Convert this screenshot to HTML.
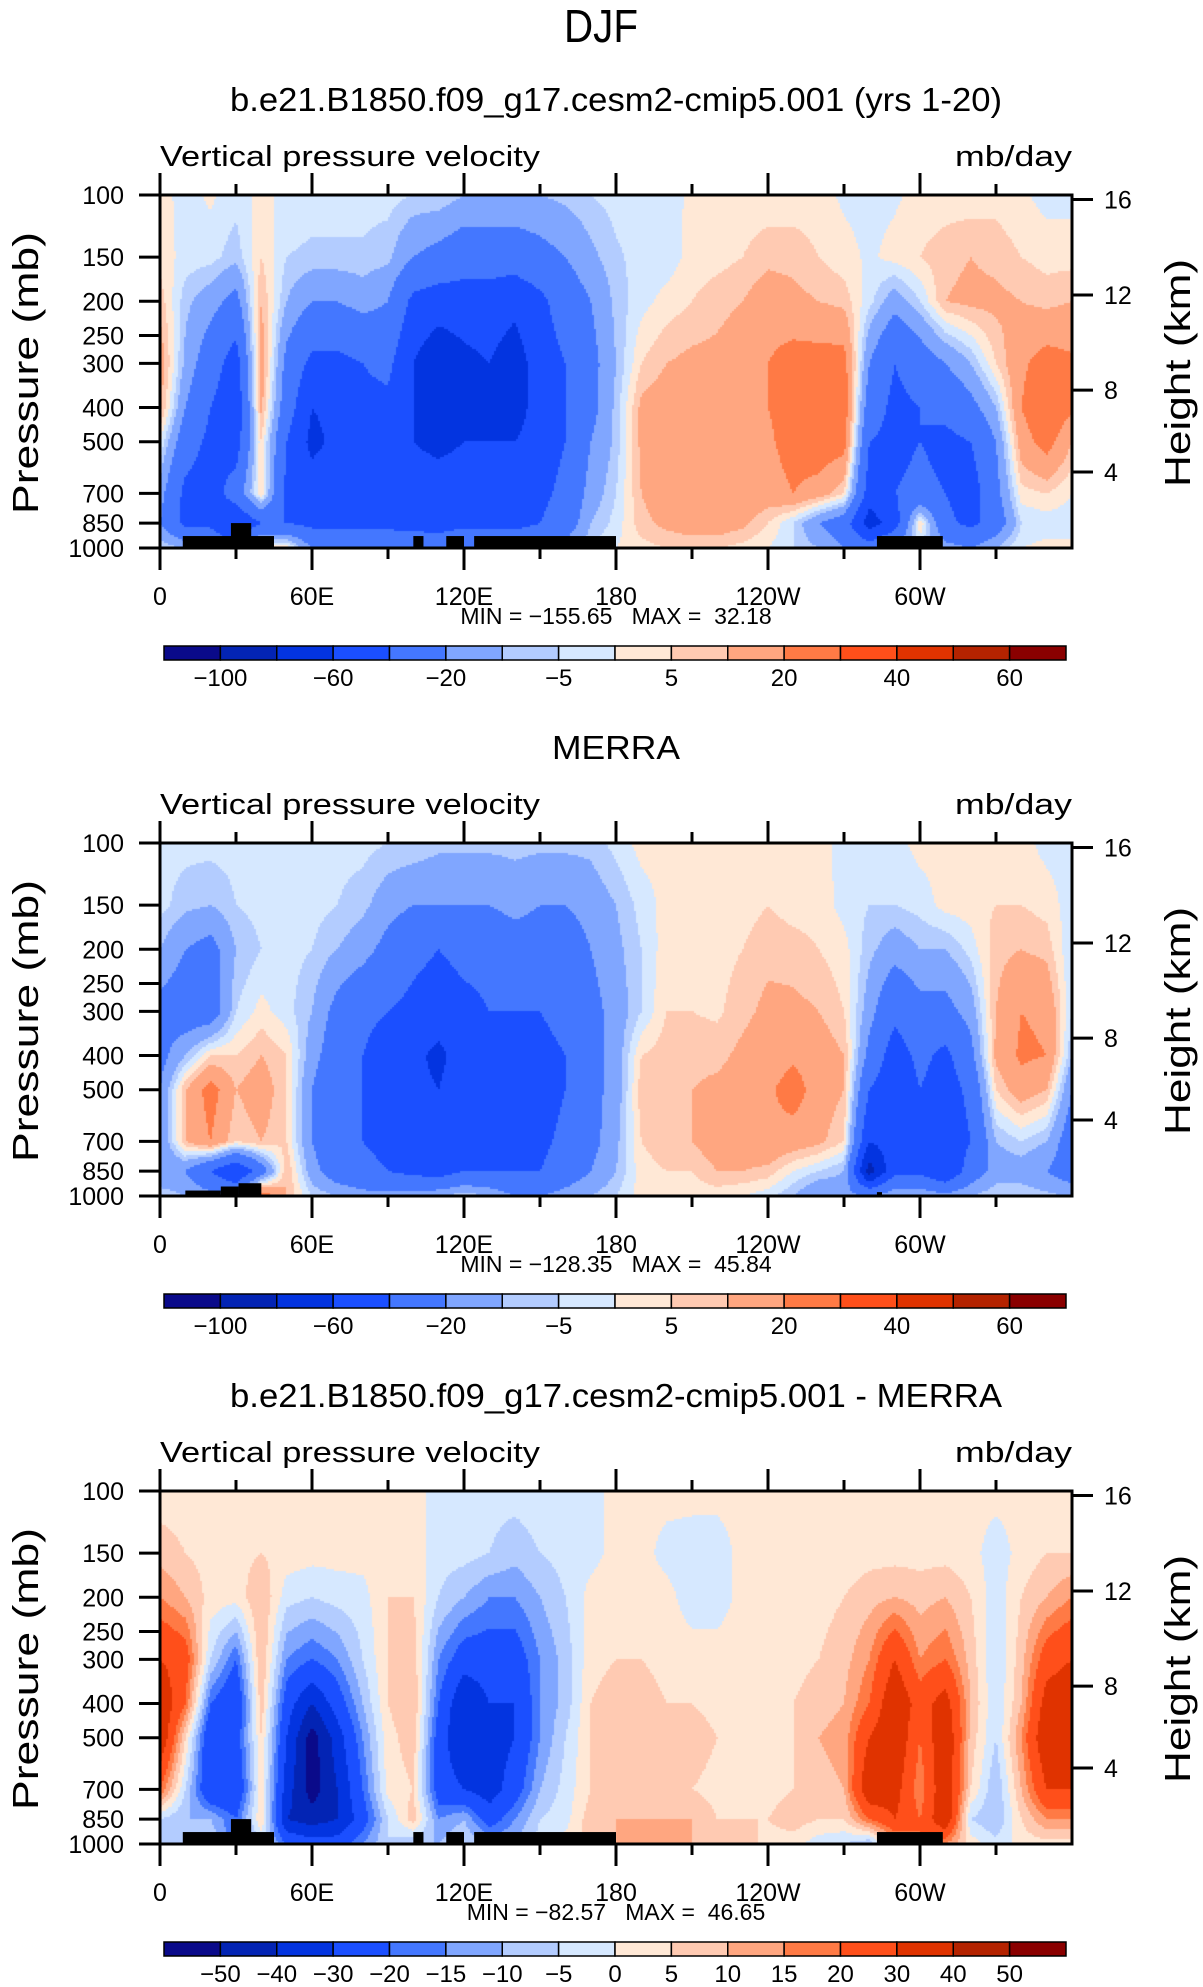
<!DOCTYPE html>
<html><head><meta charset="utf-8"><style>
html,body{margin:0;padding:0;background:#fff;}
#wrap{position:relative;width:1203px;height:1987px;overflow:hidden;}
canvas{position:absolute;}
svg{position:absolute;left:0;top:0;}
text{font-family:"Liberation Sans",sans-serif;fill:#000;}
</style></head><body>
<div id="wrap">
<canvas id="c0"></canvas>
<canvas id="c1"></canvas>
<canvas id="c2"></canvas>
<svg id="svg" width="1203" height="1987" xmlns="http://www.w3.org/2000/svg"></svg>
</div>
<script>
// ---- data ----
const lons = [0,10,20,30,40,50,60,70,80,90,100,110,120,130,140,150,160,170,180,190,200,210,220,230,240,250,260,270,280,290,300,310,320,330,340,350,360];
const levels = [100,150,200,300,400,500,700,850,1000];
const field1 = [
[2,3,8,15,12,0,-15,-20,-5],[-2,-2,-8,-12,-20,-30,-45,-45,-10],[1,-3,-15,-30,-40,-45,-50,-45,-20],[-3,-8,-25,-50,-55,-50,-30,-60,-40],
[2,5,10,15,12,5,5,-40,5],[-2,-5,-10,-25,-30,-40,-45,-40,5],[-3,-6,-20,-45,-60,-65,-50,-45,-20],[-3,-6,-20,-45,-55,-55,-50,-45,-25],
[-3,-6,-15,-40,-45,-50,-50,-45,-25],[-3,-8,-20,-35,-45,-45,-45,-45,-25],[-5,-20,-45,-60,-60,-60,-50,-50,-20],[-5,-25,-50,-75,-70,-65,-50,-50,-25],
[-10,-30,-50,-65,-65,-60,-50,-45,-20],[-10,-30,-50,-60,-60,-60,-50,-45,-20],[-10,-30,-55,-70,-70,-60,-50,-45,-25],[-10,-25,-45,-50,-50,-50,-45,-40,-25],
[-8,-20,-30,-40,-40,-40,-35,-30,-15],[-5,-12,-20,-25,-25,-20,-15,-10,-5],[-3,-6,-8,-10,-8,-8,-5,-3,0],[-2,-3,-2,5,12,12,10,8,3],
[-2,-3,2,10,15,15,15,12,5],[1,2,5,12,15,15,15,15,5],[2,3,8,12,15,15,18,15,5],[2,5,10,15,15,15,17,12,3],
[2,8,15,20,20,18,15,5,0],[2,8,12,25,25,25,20,-5,-5],[2,5,10,25,30,28,15,-20,-10],[-1,2,8,25,28,25,5,-30,-20],
[-2,-1,-3,-20,-30,-40,-50,-70,-30],[-1,2,-15,-40,-45,-45,-40,-50,-15],[2,5,-5,-30,-40,-40,-35,5,-5],[2,8,10,-20,-35,-45,-40,-35,-15],
[2,10,12,-10,-25,-40,-50,-45,-20],[3,8,12,5,-10,-20,-25,-30,-10],[1,5,10,18,20,15,3,-5,0],[-2,3,8,25,30,25,5,-3,2],
[-2,3,10,22,22,10,0,-3,2]];
const field2 = [
[-3,-3,-10,-25,-25,-20,-20,-20,-5],[-3,-8,-20,-30,-10,10,10,-20,-10],[-3,-10,-25,-30,5,25,20,-40,-15],[-3,-5,-10,-5,5,10,5,-60,-20],
[-3,-3,-5,2,10,15,10,-30,30],[-3,-3,-3,-3,5,5,5,10,10],[-3,-3,-5,-10,-15,-20,-20,-15,-5],[-3,-5,-10,-25,-30,-35,-35,-30,-10],
[-3,-8,-15,-35,-40,-40,-40,-35,-15],[-5,-15,-25,-40,-50,-50,-45,-40,-15],[-5,-20,-35,-45,-55,-55,-50,-45,-15],[-8,-20,-40,-50,-65,-60,-50,-50,-10],
[-8,-20,-35,-45,-50,-45,-45,-40,-5],[-8,-20,-35,-40,-45,-45,-45,-40,-10],[-8,-15,-30,-40,-55,-55,-50,-40,-20],[-8,-20,-30,-40,-45,-50,-45,-40,-20],
[-8,-20,-30,-35,-40,-40,-35,-30,-15],[-8,-15,-20,-25,-25,-25,-25,-20,-10],[-3,-10,-12,-15,-15,-15,-12,-10,-5],[2,-3,-5,-5,5,8,5,3,2],
[2,2,3,5,8,8,8,5,2],[2,2,3,5,8,10,10,5,2],[2,2,3,4,8,12,15,10,2],[2,3,5,8,12,15,15,10,0],
[2,5,8,12,15,18,18,8,-3],[2,3,7,12,18,25,15,0,-10],[2,3,5,10,15,15,12,-5,-20],[-2,-2,2,5,10,10,5,-10,-15],
[-2,-5,-8,-15,-25,-40,-60,-90,-20],[-2,-5,-15,-35,-50,-55,-50,-45,-10],[2,-3,-10,-25,-35,-40,-45,-45,-10],[2,2,-10,-25,-45,-50,-55,-60,-15],
[2,3,-3,-15,-25,-35,-40,-30,-10],[2,5,8,10,12,5,-10,-15,-5],[2,5,10,20,22,15,-5,-15,-5],[-2,3,8,18,20,10,-10,-20,-8],
[-2,-3,-5,-5,-10,-20,-30,-30,-10]];
const field3 = [
[2,8,15,30,40,40,20,-5,-5],[2,5,10,25,20,5,-5,-10,-5],[2,3,3,-5,-20,-30,-30,-10,-5],[2,3,2,-20,-30,-25,-30,-20,-20],
[2,5,10,10,8,5,3,5,-5],[2,3,-3,-15,-25,-30,-35,-40,-20],[2,2,-5,-20,-40,-55,-55,-45,-25],[2,2,-3,-15,-25,-35,-40,-40,-25],
[2,2,-2,-5,-10,-15,-20,-25,-15],[2,3,5,5,5,3,2,-5,-5],[2,3,5,8,10,8,5,8,-10],[-2,-3,-5,-15,-20,-25,-25,-15,-10],
[-2,-3,-10,-25,-40,-40,-30,-10,-5],[-3,-5,-15,-25,-30,-35,-35,-25,-10],[-3,-8,-15,-25,-30,-30,-25,-15,-10],[-2,-5,-10,-15,-15,-15,-10,-5,-3],
[-2,-3,-5,-8,-8,-5,-3,-2,2],[-2,-2,2,3,5,5,5,8,8],[2,2,3,5,8,10,8,10,10],[2,2,3,5,8,8,8,10,15],
[2,-2,2,3,5,8,8,10,12],[2,-3,-3,3,5,8,5,10,10],[2,-3,-3,3,3,5,3,5,10],[2,2,2,3,2,3,3,5,8],
[2,2,3,3,3,3,3,5,3],[2,2,2,3,5,5,5,8,2],[2,2,3,5,8,10,8,5,-3],[2,2,5,8,10,12,10,5,-5],
[2,3,8,15,20,30,40,20,-10],[2,3,10,30,40,40,35,30,10],[2,3,8,15,25,20,15,20,20],[2,3,10,20,35,40,40,40,15],
[2,2,5,8,10,8,5,-5,3],[2,-3,-3,-5,-5,-5,-10,-10,-3],[2,2,5,8,10,15,10,5,2],[2,5,10,25,35,40,30,15,3],
[2,5,15,30,40,40,30,15,3]];
const levelsAbs = [-100,-80,-60,-40,-20,-10,-5,0,5,10,20,30,40,50,60];
const levelsDiff = [-50,-40,-30,-20,-15,-10,-5,0,5,10,15,20,30,40,50];
const cbLabelsAbs = ["","-100","","-60","","-20","","-5","","5","","20","","40","","60"];
const cbLabelsDiff = ["","\u221250","\u221240","\u221230","\u221220","\u221215","\u221210","\u22125","0","5","10","15","20","30","40","50"];
const palette = ["#0a0a8a","#0324b4","#0334e0","#1b4fff","#4477ff","#80a6ff","#b3ccff","#d6e8ff","#ffe8d6","#ffcab2","#ffa680","#ff7a45","#ff4f1a","#e03300","#b42300","#8a0000"];
const titles = ["b.e21.B1850.f09_g17.cesm2-cmip5.001 (yrs 1-20)","MERRA","b.e21.B1850.f09_g17.cesm2-cmip5.001 - MERRA"];
const titleLen = [772,128,772];
const minVals = ["\u2212155.65","\u2212128.35","\u221282.57"];
const maxVals = ["32.18","45.84","46.65"];
const pTicks = [100,150,200,250,300,400,500,700,850,1000];
const heightKm = [4,8,12,16];
const heightP = [609,357,192,103];
const lonLabelVals = [0,60,120,180,240,300];
const lonLabels = ["0","60E","120E","180","120W","60W"];
const topo1Lon0 = [9,28,100,113,124,283];
const topo1Lon1 = [45,36,104,120,180,309];
const topo1P = [925,850,925,925,925,925];
const topo2Lon0 = [10,24,31,283];
const topo2Lon1 = [24,31,40,285];
const topo2P = [965,940,920,975];

// ---- geometry ----
const PX0=160, PX1=1072, PY0=195, PY1=548, OFF=648;
const W=PX1-PX0, H=PY1-PY0;
function xOf(lon){return PX0+lon/360*W;}
function yOf(p,k){return k*OFF+PY0+Math.log10(p/100)*H;}
const NS="http://www.w3.org/2000/svg";
const svg=document.getElementById('svg');
function el(tag,attrs,parent){const e=document.createElementNS(NS,tag);for(const a in attrs)e.setAttribute(a,attrs[a]);(parent||svg).appendChild(e);return e;}
function txt(s,attrs,parent){const e=el('text',attrs,parent);e.textContent=s;return e;}

function sample(field,lon,p){
  let i=Math.min(Math.floor(lon/10),35); let fx=(lon-lons[i])/10;
  let k=0; while(k<levels.length-2 && p>levels[k+1]) k++;
  let fy=(Math.log(p)-Math.log(levels[k]))/(Math.log(levels[k+1])-Math.log(levels[k]));
  fy=Math.max(0,Math.min(1,fy));
  const a=field[i][k],b=field[i+1][k],c=field[i][k+1],d=field[i+1][k+1];
  return (a*(1-fx)+b*fx)*(1-fy)+(c*(1-fx)+d*fx)*fy;
}
function colorIdx(v,lv){let n=0;for(const b of lv){if(v>=b)n++;}return n;}

const fields=[field1,field2,field3];
const lvs=[levelsAbs,levelsAbs,levelsDiff];
for(let k=0;k<3;k++){
  const cv=document.getElementById('c'+k);
  cv.width=W;cv.height=H;cv.style.left=PX0+'px';cv.style.top=(k*OFF+PY0)+'px';
  const ctx=cv.getContext('2d');
  const S=2;
  for(let py=0;py<H;py+=S){
    const p=100*Math.pow(10,(py+S/2)/H);
    for(let px=0;px<W;px+=S){
      const lon=(px+S/2)/W*360;
      ctx.fillStyle=palette[colorIdx(sample(fields[k],lon,p),lvs[k])];
      ctx.fillRect(px,py,S,S);
    }
  }
}

// DJF
txt("DJF",{x:601,y:42,'text-anchor':'middle','font-size':46,'font-weight':'normal',style:'font-weight:300','textLength':74,'lengthAdjust':'spacingAndGlyphs'});

for(let k=0;k<3;k++){
  const o=k*OFF;
  const g=el('g',{});
  txt(titles[k],{x:616,y:111,'transform':'translate(0,'+o+')','text-anchor':'middle','font-size':33,'textLength':titleLen[k],'lengthAdjust':'spacingAndGlyphs',},g);
  txt("Vertical pressure velocity",{x:160,y:o+166,'font-size':29,'textLength':380,'lengthAdjust':'spacingAndGlyphs',},g);
  txt("mb/day",{x:1072,y:o+166,'font-size':29,'text-anchor':'end','textLength':117,'lengthAdjust':'spacingAndGlyphs',},g);
  // topo
  const t0=k==1?topo2Lon0:topo1Lon0, t1=k==1?topo2Lon1:topo1Lon1, tp=k==1?topo2P:topo1P;
  for(let j=0;j<t0.length;j++){
    const r=el('rect',{x:xOf(t0[j]),y:yOf(tp[j],k),width:xOf(t1[j])-xOf(t0[j]),height:yOf(1000,k)-yOf(tp[j],k),fill:'#000'},g);
    
    
  }
  // frame
  el('rect',{x:PX0,y:o+PY0,width:W,height:H,fill:'none',stroke:'#000','stroke-width':3,},g);
  // lon ticks
  for(let lon=0;lon<=330;lon+=30){
    const major=lon%60==0, x=xOf(lon);
    el('line',{x1:x,x2:x,y1:o+PY0,y2:o+PY0-(major?22:11),stroke:'#000','stroke-width':3},g);
    el('line',{x1:x,x2:x,y1:o+PY1,y2:o+PY1+(major?22:11),stroke:'#000','stroke-width':3},g);
  }
  for(let j=0;j<lonLabelVals.length;j++){
    txt(lonLabels[j],{x:xOf(lonLabelVals[j]),y:o+605,'text-anchor':'middle','font-size':25,},g);
  }
  txt("MIN = "+minVals[k]+"   MAX =  "+maxVals[k],{x:616,y:o+624,'text-anchor':'middle','font-size':23,'xml:space':'preserve',style:'white-space:pre'},g);
  // pressure ticks
  for(const p of pTicks){
    const y=yOf(p,k);
    el('line',{x1:PX0-21,x2:PX0,y1:y,y2:y,stroke:'#000','stroke-width':3},g);
    txt(String(p),{x:124,y:y+9,'text-anchor':'end','font-size':25,},g);
  }
  const yt=txt("Pressure  (mb)",{x:0,y:0,'text-anchor':'middle','font-size':36,'transform':'translate(38,'+(o+373)+') rotate(-90)','textLength':282,'lengthAdjust':'spacingAndGlyphs',},g);
  for(let j=0;j<heightKm.length;j++){
    const y=yOf(heightP[j],k);
    el('line',{x1:PX1,x2:PX1+21,y1:y,y2:y,stroke:'#000','stroke-width':3},g);
    txt(String(heightKm[j]),{x:1104,y:y+9,'font-size':25,},g);
  }
  txt("Height  (km)",{x:0,y:0,'text-anchor':'middle','font-size':36,'transform':'translate(1190,'+(o+373)+') rotate(-90)','textLength':228,'lengthAdjust':'spacingAndGlyphs',},g);
  // colorbar
  const cb=el('g',{},g);
  const cx0=164,cx1=1066,bw=(cx1-cx0)/16;
  for(let j=0;j<16;j++){
    const r=el('rect',{x:cx0+j*bw,y:o+646,width:bw,height:14,fill:palette[j],stroke:'#000','stroke-width':1.5},cb);
    
    
  }
  const labs=k==2?cbLabelsDiff:cbLabelsAbs;
  for(let j=1;j<16;j++){
    if(!labs[j])continue;
    txt(labs[j].replace('-','\u2212'),{x:cx0+j*bw,y:o+686,'text-anchor':'middle','font-size':24,},cb);
  }
}
</script>
</body></html>
